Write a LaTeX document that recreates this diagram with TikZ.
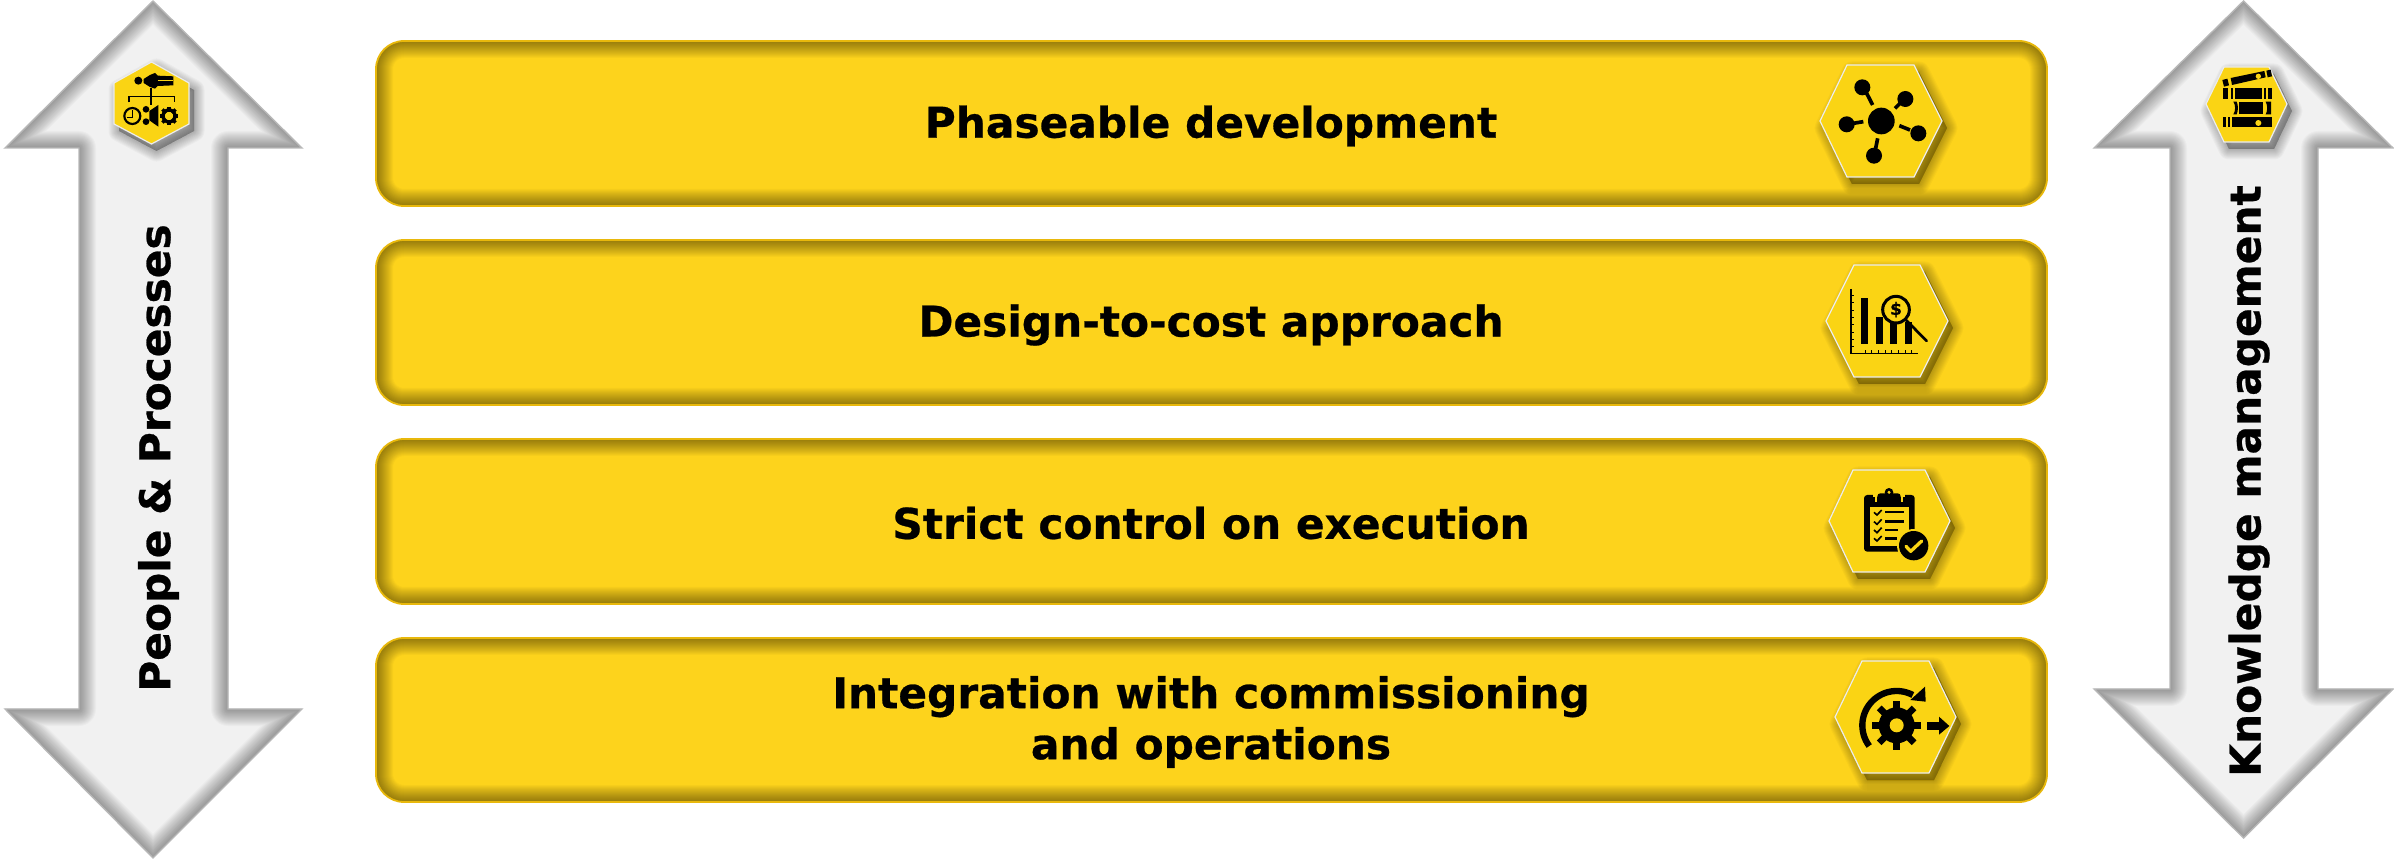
\documentclass[tikz,border=0pt]{standalone}
\usepackage{fontspec}
\setmainfont[BoldFeatures={FakeBold=0.6}]{DejaVu Sans}
\definecolor{boxy}{HTML}{FDD31C}
\definecolor{hexy}{HTML}{FAD414}
\definecolor{boxedge}{HTML}{E8B80C}
\definecolor{arrowfill}{HTML}{F1F1F1}
\tikzset{
  lbl/.style={font=\bfseries\fontsize{21.15}{25.5}\selectfont,text=black,align=center,inner sep=0pt},
  icon/.style={x=0.16667pt,y=-0.16667pt},
  iw/.style={line width=#1*0.16667pt},
}
\newcommand{\innershade}[3]{%
  \begin{scope}
    \clip #1;
    \foreach \d in {#2} { \draw[black,opacity=#3,line width=\d pt,line join=round] #1; }
  \end{scope}}
\newcommand{\softshadow}[1]{%
  \begin{scope}[shift={(5,7)}]
    \foreach \d in {0.5,1.5,2.5,3.5,4.5,5.5,6.5,7.5,8.5,9.5,10.5} { \draw[black,fill=black,opacity=.027,line width=\d pt,line join=round] #1; }
  \end{scope}}
\newcommand{\hexagon}[1]{%
  \softshadow{#1}
  \draw[fill=hexy,draw=white!85!gray,line width=.6pt] #1;}
\newcommand{\bigarrow}[1]{%
  \fill[arrowfill] #1;
  \innershade{#1}{1,2,3,4,5,6,7,8,9,10,11,12,13,14,15,16,17}{.022}
  \draw[draw=black!28,line width=.7pt] #1;}
\newcommand{\yellowbox}[2]{%
  \def\bp{[rounded corners=14pt] (376,#1) rectangle (2047,#2)}
  \fill[boxy] \bp;
  \innershade{\bp}{1,2,3,4,5,6,7,8,9,10,11,12,13,14,15,16,17}{.028}
  \draw[draw=boxedge,line width=.9pt] \bp;}
\begin{document}
\begin{tikzpicture}[x=0.5pt,y=-0.5pt]
\useasboundingbox (0,0) rectangle (2394,860);
% arrows
\bigarrow{(153,1)--(302,148)--(228,148)--(228,709)--(302,709)--(153,858)--(5,709)--(79,709)--(79,148)--(5,148)--cycle}
\bigarrow{(2243.5,1)--(2393,148)--(2318,148)--(2318,689)--(2393,689)--(2243.5,838)--(2094,689)--(2170,689)--(2170,148)--(2094,148)--cycle}
\node[lbl,rotate=90] (pp) at (158.5,458) {People \& Processes};
\node[lbl,rotate=90] (km) at (2249,481) {Knowledge management};
% boxes
\yellowbox{41}{206}
\yellowbox{240}{405}
\yellowbox{439}{604}
\yellowbox{638}{802}
\node[lbl] (t1) at (1211,126) {Phaseable development};
\node[lbl] (t2) at (1211,325) {Design-to-cost approach};
\node[lbl] (t3) at (1211,523) {Strict control on execution};
\node[lbl] (t4) at (1211,722) {Integration with commissioning\\and operations};
% hexagons
\hexagon{(1820,121)--(1847,65)--(1914,65)--(1942,121)--(1914,177)--(1847,177)--cycle}
\hexagon{(1826,321)--(1854,265)--(1920,265)--(1948,321)--(1920,377)--(1854,377)--cycle}
\hexagon{(1829,521)--(1853,470)--(1925,470)--(1950,521)--(1925,572)--(1853,572)--cycle}
\hexagon{(1835,717)--(1862,661)--(1929,661)--(1956,717)--(1929,773)--(1862,773)--cycle}
\hexagon{(2206,104)--(2224,67)--(2269,67)--(2287,104)--(2269,142)--(2224,142)--cycle}
\hexagon{(151.5,62)--(189,83)--(189,124)--(151.5,144)--(114,124)--(114,83)--cycle}
% icon 1: network
\begin{scope}[shift={(1810,55)},icon]
  \fill (214,198) circle[radius=40];
  \foreach \x/\y/\a/\b/\c/\e in {157/97/170/115/188/150, 286/132/270/145/255/160, 110/208/130/205/160/200, 325/235/300/225/268/212, 192/302/197/280/203/250}
    { \fill (\x,\y) circle[radius=24]; \draw[iw=11] (\a,\b) -- (\c,\e); }
\end{scope}
% icon 2: chart
\begin{scope}[shift={(1815,255)},icon]
  \draw[iw=5] (108,102) -- (108,296) -- (310,296);
  \foreach \y in {122,144,166,188,210,232,254,276} \draw[iw=3] (108,\y) -- (118,\y);
  \foreach \x in {150,170,190,210,230,250,270,290} \draw[iw=3] (\x,296) -- (\x,284);
  \fill (137,130) rectangle (158,268);
  \fill (182,185) rectangle (203,268);
  \fill (225,200) rectangle (246,268);
  \fill (270,200) rectangle (291,268);
  \draw[iw=9,fill=hexy] (243,164) circle[radius=40];
  \draw[iw=8,line cap=round] (274,196) -- (335,258);
  \node[font=\bfseries\fontsize{8.5}{9}\selectfont,inner sep=0pt] (dollar) at (243,164) {\$};
\end{scope}
% icon 3: clipboard
\begin{scope}[shift={(1820,455)},icon]
  \fill[rounded corners=1.6pt] (132,120) rectangle (284,290);
  \fill[hexy] (150,155) rectangle (266,272);
  \fill[hexy] (160,115) rectangle (255,125);
  \fill[rounded corners=1.5pt] (172,115) rectangle (242,137);
  \fill[hexy] (165,122) rectangle (172,140);
  \fill[hexy] (242,122) rectangle (250,140);
  \fill (150,140) rectangle (266,155);
  \fill (207,112) circle[radius=13];
  \fill[hexy] (207,112) circle[radius=5];
  \foreach \y/\e in {172/252,200/252,225/235,250/230} {
    \draw[iw=5] (162,\y) -- (171,\y+8) -- (185,\y-7);
    \draw[iw=7] (195,\y) -- (\e,\y);
  }
  \fill[hexy] (281,272) circle[radius=50];
  \fill (281,272) circle[radius=44];
  \draw[hexy,iw=10,line cap=round,line join=round] (258,274) -- (272,289) -- (305,258);
\end{scope}
% icon 4: gear and arrows
\begin{scope}[shift={(1825,650)},icon]
  \draw[iw=19] plot[domain=143:298,samples=40] ({215+103*cos(\x)},{226+103*sin(\x)});
  \fill (300,110) -- (302,155) -- (256,150) -- cycle;
  \foreach \a in {0,45,...,315}
    \fill[rotate around={\a:(215,226)}] (205,152) rectangle (225,190);
  \fill (215,226) circle[radius=54];
  \fill[hexy] (215,226) circle[radius=21];
  \fill (305,216) rectangle (342,240);
  \fill (342,200) -- (373,228) -- (342,254) -- cycle;
\end{scope}
% icon 5: books
\begin{scope}[shift={(2195,55)},icon]
  \fill (82,75) -- (97,71) -- (102,91) -- (87,95) -- cycle;
  \fill (107,69) -- (208,48) -- (212,67) -- (111,90) -- cycle;
  \fill (214,47) -- (227,44) -- (231,64) -- (218,67) -- cycle;
  \fill[hexy] (190,64) circle[radius=8];
  \fill (83,100) rectangle (100,131);
  \fill (107,100) rectangle (113,131);
  \fill (120,100) rectangle (201,131);
  \fill (207,100) rectangle (213,131);
  \fill (218,100) rectangle (230,131);
  \fill (115,140) .. controls (122,150) and (122,168) .. (115,178) -- (125,178) .. controls (130,165) and (130,152) .. (125,140) -- cycle;
  \fill (133,140) rectangle (204,178);
  \fill (212,140) .. controls (218,152) and (218,168) .. (212,178) -- (228,178) -- (228,140) -- cycle;
  \fill (83,187) rectangle (92,217);
  \fill (98,187) rectangle (104,217);
  \fill (110,187) rectangle (230,217);
  \fill[hexy] (190,204) circle[radius=9];
\end{scope}
% icon 6: person, clock, group, gear
\begin{scope}[shift={(105,55)},icon]
  \fill (100,77) circle[radius=12];
  \fill (116,72) -- (135,60) -- (150,54) -- (158,62) -- (205,64) -- (205,91) -- (158,93) -- (150,101) -- (135,96) -- (116,84) -- cycle;
  \draw[hexy,iw=3] (158,77.5) -- (205,77.5);
  \draw[iw=4.5] (138,100) -- (138,150);
  \draw[iw=4.5] (72,142) -- (72,125) -- (208,125) -- (208,142);
  \draw[iw=6.5] (82,183) circle[radius=24];
  \draw[iw=4.5] (82,165) -- (82,187) -- (66,187);
  \fill (123,163) circle[radius=10];
  \fill (123,200) circle[radius=10];
  \fill (133,168) -- (160,150) -- (160,215) -- (133,196) -- cycle;
  \draw[iw=10] (192,183) circle[radius=18];
  \foreach \a in {0,45,...,315}
    \fill[rotate around={\a:(192,183)}] (187,155) rectangle (197,170);
\end{scope}
\end{tikzpicture}
\end{document}
